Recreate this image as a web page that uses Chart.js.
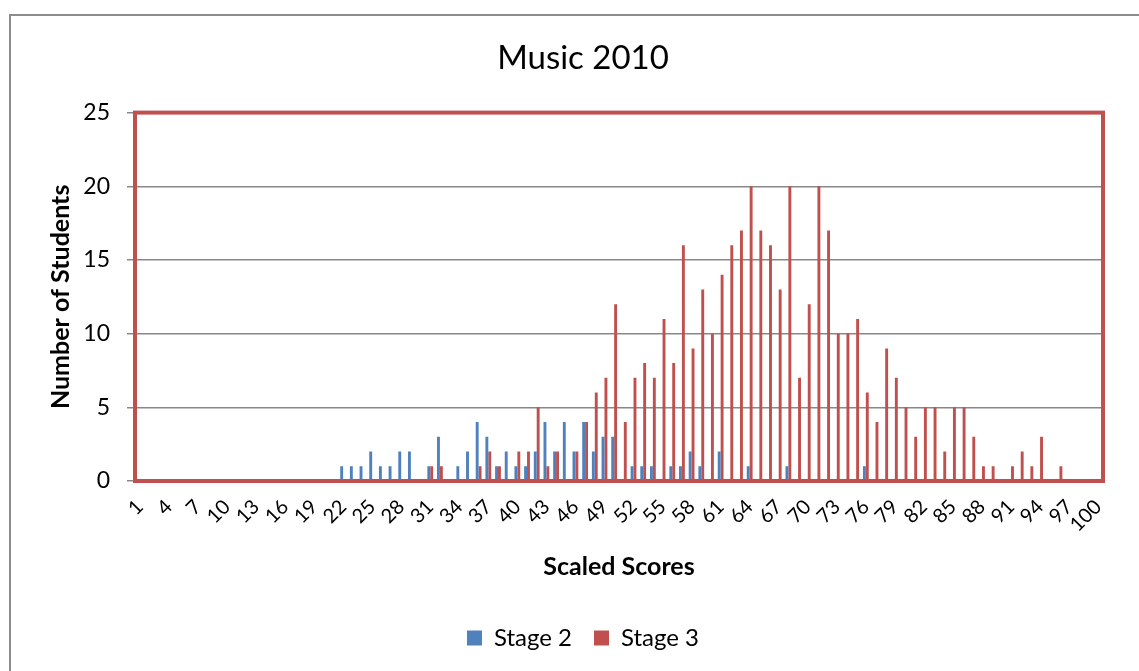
<!DOCTYPE html>
<html>
<head>
<meta charset="utf-8">
<title>Music 2010</title>
<script src="https://cdn.jsdelivr.net/npm/chart.js@4/dist/chart.umd.min.js"></script>
<style>
  html, body { margin: 0; padding: 0; background: #fff; overflow: hidden; }
  #frame {
    position: absolute; left: 9px; top: 14px;
    width: 1143px; height: 690px;
    border-left: 2px solid #8c8c8c; border-top: 2px solid #8c8c8c;
  }
  #chart { display: block; }
</style>
</head>
<body>
<div id="frame"><canvas id="chart" width="1143" height="680"></canvas></div>
<script>
// scores 1..100
const scores = Array.from({length: 100}, (_, i) => String(i + 1));

// number of students per scaled score
const stage2 = [
  0, 0, 0, 0, 0, 0, 0, 0, 0, 0,
  0, 0, 0, 0, 0, 0, 0, 0, 0, 0,
  0, 1, 1, 1, 2, 1, 1, 2, 2, 0,
  1, 3, 0, 1, 2, 4, 3, 1, 2, 1,
  1, 2, 4, 2, 4, 2, 4, 2, 3, 3,
  0, 1, 1, 1, 0, 1, 1, 2, 1, 0,
  2, 0, 0, 1, 0, 0, 0, 1, 0, 0,
  0, 0, 0, 0, 0, 1, 0, 0, 0, 0,
  0, 0, 0, 0, 0, 0, 0, 0, 0, 0,
  0, 0, 0, 0, 0, 0, 0, 0, 0, 0
];
const stage3 = [
  0, 0, 0, 0, 0, 0, 0, 0, 0, 0,
  0, 0, 0, 0, 0, 0, 0, 0, 0, 0,
  0, 0, 0, 0, 0, 0, 0, 0, 0, 0,
  1, 1, 0, 0, 0, 1, 2, 1, 0, 2,
  2, 5, 1, 2, 0, 2, 4, 6, 7, 12,
  4, 7, 8, 7, 11, 8, 16, 9, 13, 10,
  14, 16, 17, 20, 17, 16, 13, 20, 7, 12,
  20, 17, 10, 10, 11, 6, 4, 9, 7, 5,
  3, 5, 5, 2, 5, 5, 3, 1, 1, 0,
  1, 2, 1, 3, 0, 1, 0, 0, 0, 0
];
const yTicks = [0, 5, 10, 15, 20, 25];

const font = 'Lato';

// red frame round the plot area
const plotFrame = {
  id: 'plotFrame',
  afterDraw(chart) {
    const {ctx, chartArea: a} = chart;
    ctx.save();
    ctx.strokeStyle = '#C0504D';
    ctx.lineWidth = 4;
    ctx.strokeRect(a.left, a.top, a.right - a.left, a.bottom - a.top);
    ctx.restore();
  }
};

new Chart(document.getElementById('chart'), {
  type: 'bar',
  data: {
    labels: scores,
    datasets: [
      { label: 'Stage 2', data: stage2, backgroundColor: '#4F81BD' },
      { label: 'Stage 3', data: stage3, backgroundColor: '#C0504D' }
    ]
  },
  options: {
    responsive: false,
    animation: false,
    devicePixelRatio: 1,
    categoryPercentage: 0.6,
    barPercentage: 1.0,
    // left padding keeps title and legend centred like the original frame
    layout: { padding: { left: 52, right: 51, top: 0, bottom: 36 } },
    plugins: {
      title: {
        display: true,
        text: 'Music 2010',
        color: '#000',
        font: { family: font, size: 33, weight: 'normal' },
        padding: { top: 23, bottom: 34 }
      },
      legend: {
        position: 'bottom',
        labels: {
          color: '#000',
          font: { family: font, size: 24 },
          boxWidth: 15,
          boxHeight: 15,
          padding: 22
        }
      },
      tooltip: { enabled: false }
    },
    scales: {
      x: {
        grid: { display: false, drawTicks: false },
        border: { display: false },
        ticks: {
          autoSkip: false,
          minRotation: 45,
          maxRotation: 45,
          padding: 14,
          color: '#000',
          font: { family: font, size: 20 },
          callback: (v, i) => (i % 3 === 0 ? scores[i] : '')
        },
        title: {
          display: true,
          text: 'Scaled Scores',
          color: '#000',
          font: { family: font, size: 25, weight: 'bold' },
          padding: { top: 0, bottom: 22 }
        },
        afterFit: (s) => { s.height = 123; }
      },
      y: {
        min: 0,
        max: 25,
        afterBuildTicks: (s) => { s.ticks = yTicks.map(v => ({value: v})); },
        grid: { color: '#888', lineWidth: 1.5, tickLength: 8 },
        border: { display: false },
        ticks: {
          padding: 17,
          color: '#000',
          font: { family: font, size: 23 }
        },
        title: {
          display: true,
          text: 'Number of Students',
          color: '#000',
          font: { family: font, size: 25, weight: 'bold' },
          padding: { top: -17, bottom: 0 }
        },
        afterFit: (s) => { s.width = 72; }
      }
    }
  },
  plugins: [plotFrame]
});
</script>
</body>
</html>
